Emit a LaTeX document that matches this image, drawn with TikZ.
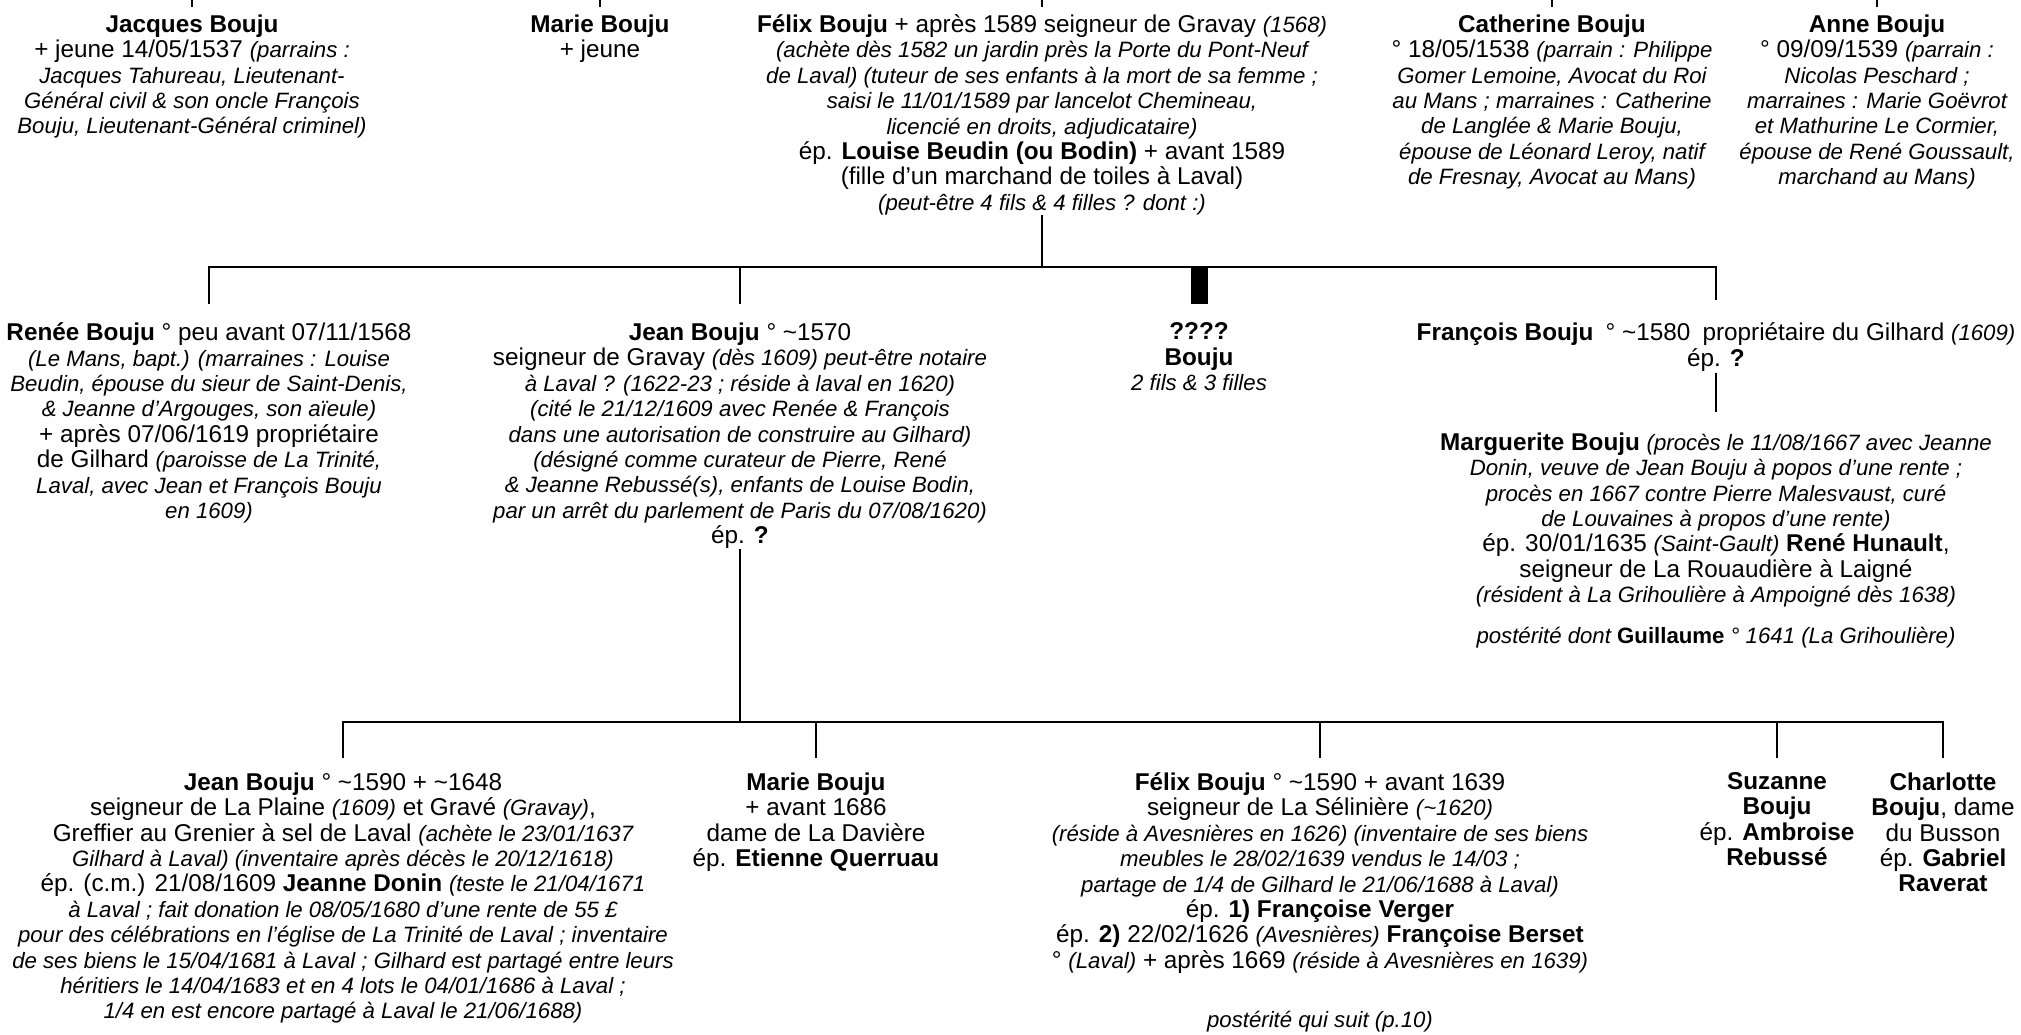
\documentclass[tikz,border=0pt]{standalone}
\usepackage{fontspec}
\setmainfont{Liberation Sans}
\usetikzlibrary{calc}
\newcommand{\myit}[1]{{\fontsize{11.1}{12.7}\selectfont\itshape #1}}
\newcommand{\mytilde}{\textasciitilde}
\newcommand{\firstline}{\rule{0pt}{12pt}}
\lineskiplimit=-50pt
\lineskip=0pt
\begin{document}
\begin{tikzpicture}[x=0.5pt,y=-0.5pt,
  person/.style={align=center, inner sep=0pt, anchor=north, font={\fontsize{12.15}{12.7}\selectfont}, execute at begin node=\firstline},
  link/.style={line width=1.35pt},
  bar/.style={line width=8.5pt}]
\useasboundingbox[fill=white] (0,0) rectangle (2021,1034);
\coordinate (top) at (0,0);
\coordinate (b1) at (0,267);
\coordinate (b2) at (0,722);

% ---------- top row ----------
\node[person] (jacques) at (192,14.2) {\textbf{Jacques Bouju}\\
+ jeune 14/05/1537 \myit{(parrains :}\\
\myit{Jacques Tahureau, Lieutenant-}\\
\myit{Général civil \& son oncle François}\\
\myit{Bouju, Lieutenant-Général criminel)}};

\node[person] (marie) at (600,14.2) {\textbf{Marie Bouju}\\ + jeune};

\node[person] (felix) at (1042,14.2) {\textbf{Félix Bouju} + après 1589 seigneur de Gravay \myit{(1568)}\\
\myit{(achète dès 1582 un jardin près la Porte du Pont-Neuf}\\
\myit{de Laval) (tuteur de ses enfants à la mort de sa femme ;}\\
\myit{saisi le 11/01/1589 par lancelot Chemineau,}\\
\myit{licencié en droits, adjudicataire)}\\
ép. \textbf{Louise Beudin (ou Bodin)} + avant 1589\\
(fille d’un marchand de toiles à Laval)\\
\myit{(peut-être 4 fils \& 4 filles ? dont :)}};

\node[person] (cath) at (1552,14.2) {\textbf{Catherine Bouju}\\
° 18/05/1538 \myit{(parrain : Philippe}\\
\myit{Gomer Lemoine, Avocat du Roi}\\
\myit{au Mans ; marraines : Catherine}\\
\myit{de Langlée \& Marie Bouju,}\\
\myit{épouse de Léonard Leroy, natif}\\
\myit{de Fresnay, Avocat au Mans)}};

\node[person] (anne) at (1877,14.2) {\textbf{Anne Bouju}\\
° 09/09/1539 \myit{(parrain :}\\
\myit{Nicolas Peschard ;}\\
\myit{marraines : Marie Goëvrot}\\
\myit{et Mathurine Le Cormier,}\\
\myit{épouse de René Goussault,}\\
\myit{marchand au Mans)}};

% ---------- middle row ----------
\node[person] (renee) at (209,322.4) {\textbf{Renée Bouju} ° peu avant 07/11/1568\\
\myit{(Le Mans, bapt.) (marraines : Louise}\\
\myit{Beudin, épouse du sieur de Saint-Denis,}\\
\myit{\& Jeanne d’Argouges, son aïeule)}\\
+ après 07/06/1619 propriétaire\\
de Gilhard \myit{(paroisse de La Trinité,}\\
\myit{Laval, avec Jean et François Bouju}\\
\myit{en 1609)}};

\node[person] (jean) at (740,322.4) {\textbf{Jean Bouju} ° \mytilde1570\\
seigneur de Gravay \myit{(dès 1609) peut-être notaire}\\
\myit{à Laval ? (1622-23 ; réside à laval en 1620)}\\
\myit{(cité le 21/12/1609 avec Renée \& François}\\
\myit{dans une autorisation de construire au Gilhard)}\\
\myit{(désigné comme curateur de Pierre, René}\\
\myit{\& Jeanne Rebussé(s), enfants de Louise Bodin,}\\
\myit{par un arrêt du parlement de Paris du 07/08/1620)}\\
ép. \textbf{?}};

\node[person] (q) at (1199,322.4) {\textbf{????}\\ \textbf{Bouju}\\ \myit{2 fils \& 3 filles}};

\node[person] (francois) at (1716,322.4) {\textbf{François Bouju}\enspace° \mytilde1580\enspace propriétaire du Gilhard \myit{(1609)}\\
ép. \textbf{?}};

\node[person] (marg) at (1716,432.2) {\textbf{Marguerite Bouju} \myit{(procès le 11/08/1667 avec Jeanne}\\
\myit{Donin, veuve de Jean Bouju à popos d’une rente ;}\\
\myit{procès en 1667 contre Pierre Malesvaust, curé}\\
\myit{de Louvaines à propos d’une rente)}\\
ép. 30/01/1635 \myit{(Saint-Gault)} \textbf{René Hunault},\\
seigneur de La Rouaudière à Laigné\\
\myit{(résident à La Grihoulière à Ampoigné dès 1638)}\\[7.5pt]
\myit{postérité dont {\upshape\bfseries Guillaume} ° 1641 (La Grihoulière)}};

% ---------- bottom row ----------
\node[person] (jean2) at (343,772.2) {\textbf{Jean Bouju} ° \mytilde1590 + \mytilde1648\\
seigneur de La Plaine \myit{(1609)} et Gravé \myit{(Gravay)},\\
Greffier au Grenier à sel de Laval \myit{(achète le 23/01/1637}\\
\myit{Gilhard à Laval) (inventaire après décès le 20/12/1618)}\\
ép. (c.m.) 21/08/1609 \textbf{Jeanne Donin} \myit{(teste le 21/04/1671}\\
\myit{à Laval ; fait donation le 08/05/1680 d’une rente de 55 £}\\
\myit{pour des célébrations en l’église de La Trinité de Laval ; inventaire}\\
\myit{de ses biens le 15/04/1681 à Laval ; Gilhard est partagé entre leurs}\\
\myit{héritiers le 14/04/1683 et en 4 lots le 04/01/1686 à Laval ;}\\
\myit{1/4 en est encore partagé à Laval le 21/06/1688)}};

\node[person] (marie2) at (816,772.2) {\textbf{Marie Bouju}\\
+ avant 1686\\
dame de La Davière\\
ép. \textbf{Etienne Querruau}};

\node[person] (felix2) at (1320,772.2) {\textbf{Félix Bouju} ° \mytilde1590 + avant 1639\\
seigneur de La Sélinière \myit{(\mytilde1620)}\\
\myit{(réside à Avesnières en 1626) (inventaire de ses biens}\\
\myit{meubles le 28/02/1639 vendus le 14/03 ;}\\
\myit{partage de 1/4 de Gilhard le 21/06/1688 à Laval)}\\
ép. \textbf{1) Françoise Verger}\\
ép. \textbf{2)} 22/02/1626 \myit{(Avesnières)} \textbf{Françoise Berset}\\
° \myit{(Laval)} + après 1669 \myit{(réside à Avesnières en 1639)}\\[17pt]
\myit{postérité qui suit (p.10)}};

\node[person] (suz) at (1777,772.2) {\textbf{Suzanne}\\ \textbf{Bouju}\\ ép. \textbf{Ambroise}\\ \textbf{Rebussé}};

\node[person] (charl) at (1943,772.2) {\textbf{Charlotte}\\ \textbf{Bouju}, dame\\ du Busson\\ ép. \textbf{Gabriel}\\ \textbf{Raverat}};

% ---------- connectors ----------
\foreach \n in {jacques,marie,felix,cath,anne}
  \draw[link] (\n.north |- top) -- ($(\n.north)+(0,-7)$);

\draw[link] (felix.south) -- (felix.south |- b1);
\draw[link] ($(renee.north)+(0,-18)$) |- (francois.north |- b1) -- ($(francois.north)+(0,-22)$);
\draw[link] (jean.north |- b1) -- ($(jean.north)+(0,-18)$);
\draw[bar] (q.north |- b1) -- ($(q.north)+(0,-18)$);
\draw[link] ($(francois.south)+(0,1)$) -- ($(marg.north)+(0,-20)$);

\draw[link] (jean.south) -- (jean.south |- b2);
\draw[link] ($(jean2.north)+(0,-14)$) |- (charl.north |- b2) -- ($(charl.north)+(0,-14)$);
\foreach \n in {marie2,felix2,suz}
  \draw[link] (\n.north |- b2) -- ($(\n.north)+(0,-14)$);
\end{tikzpicture}
\end{document}
